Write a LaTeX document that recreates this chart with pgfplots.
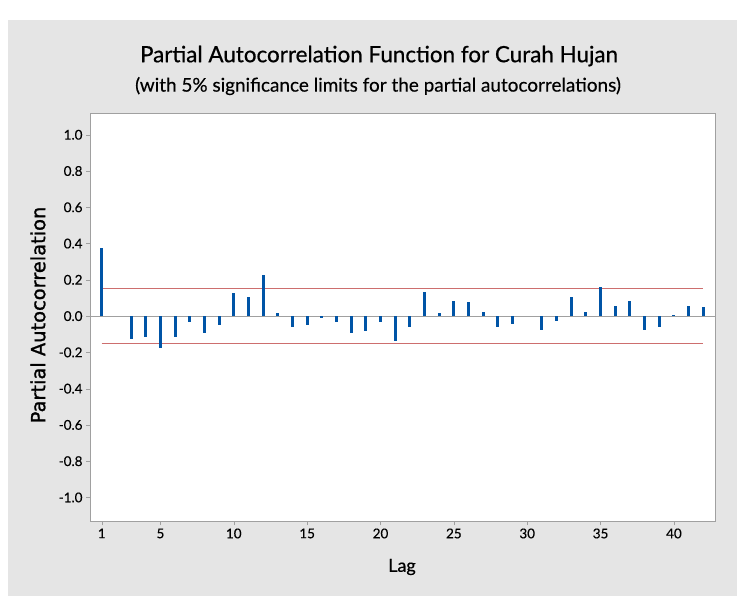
\documentclass[border=0pt]{standalone}
\usepackage{fontspec}
\setmainfont{Lato}[FakeBold=0.35]
\newfontfamily\titlefont{Lato}[FakeBold=0.6]
\newfontfamily\dejavu{DejaVu Sans}[FakeBold=1.2]
\usepackage{pgfplots}
\pgfplotsset{compat=1.18}
\definecolor{bg}{RGB}{229,229,229}
\definecolor{axisgray}{RGB}{160,160,160}
\definecolor{barblue}{RGB}{0,84,166}
\definecolor{redline}{RGB}{205,110,110}
\begin{document}
\begin{tikzpicture}[x=1bp,y=1bp]
\fill[white] (0,0) rectangle (737,-596);
\fill[bg] (8,-20) rectangle (737,-596);
\useasboundingbox (0,0) rectangle (737,-596);
\node[font=\titlefont\fontsize{22.5}{26}\selectfont] at (379,-56) {Partial Autocorrelation Function for Curah Hujan};
\node[font=\fontsize{19}{21}\selectfont] at (378,-86) {(with 5\% significance limits for the partial autocorrelations)};
\node[rotate=90,font=\dejavu\fontsize{19.5}{21}\selectfont] at (38,-315) {Partial Autocorrelation};
\node[font=\titlefont\fontsize{18}{20}\selectfont] at (402,-567) {Lag};
\begin{axis}[
  at={(90bp,-521bp)}, anchor=south west,
  width=625bp, height=408bp, scale only axis,
  xmin=0.2, xmax=42.8, ymin=-1.13, ymax=1.12,
  axis background/.style={fill=white},
  axis line style={draw=axisgray},
  xtick={1,5,10,15,20,25,30,35,40},
  ytick={-1,-0.8,-0.6,-0.4,-0.2,0,0.2,0.4,0.6,0.8,1},
  tick align=outside, major tick length=4bp,
  tick style={axisgray},
  xtick pos=bottom, ytick pos=left,
  yticklabel style={/pgf/number format/.cd, fixed, fixed zerofill, precision=1},
  /pgf/number format/assume math mode=true,
  tick label style={font=\fontsize{13.5}{15}\selectfont},
  clip=false,
]
\addplot[axisgray, line width=0.8bp, forget plot] coordinates {(0.2,0) (42.8,0)};
\addplot[redline, line width=1.3bp] coordinates {(1,0.152) (42,0.152)};
\addplot[redline, line width=1.3bp] coordinates {(1,-0.152) (42,-0.152)};
\addplot[ycomb, barblue, line width=3bp, mark=none] coordinates {
(1,0.378) (2,0) (3,-0.127) (4,-0.118) (5,-0.176) (6,-0.118) (7,-0.035)
(8,-0.094) (9,-0.051) (10,0.125) (11,0.107) (12,0.226) (13,0.015) (14,-0.061)
(15,-0.051) (16,-0.009) (17,-0.035) (18,-0.094) (19,-0.084) (20,-0.035)
(21,-0.136) (22,-0.061) (23,0.132) (24,0.015) (25,0.083) (26,0.075) (27,0.024)
(28,-0.061) (29,-0.044) (30,0) (31,-0.077) (32,-0.026) (33,0.108) (34,0.024)
(35,0.158) (36,0.057) (37,0.083) (38,-0.077) (39,-0.061) (40,0.006) (41,0.057)
(42,0.050)};
\end{axis}
\end{tikzpicture}
\end{document}
